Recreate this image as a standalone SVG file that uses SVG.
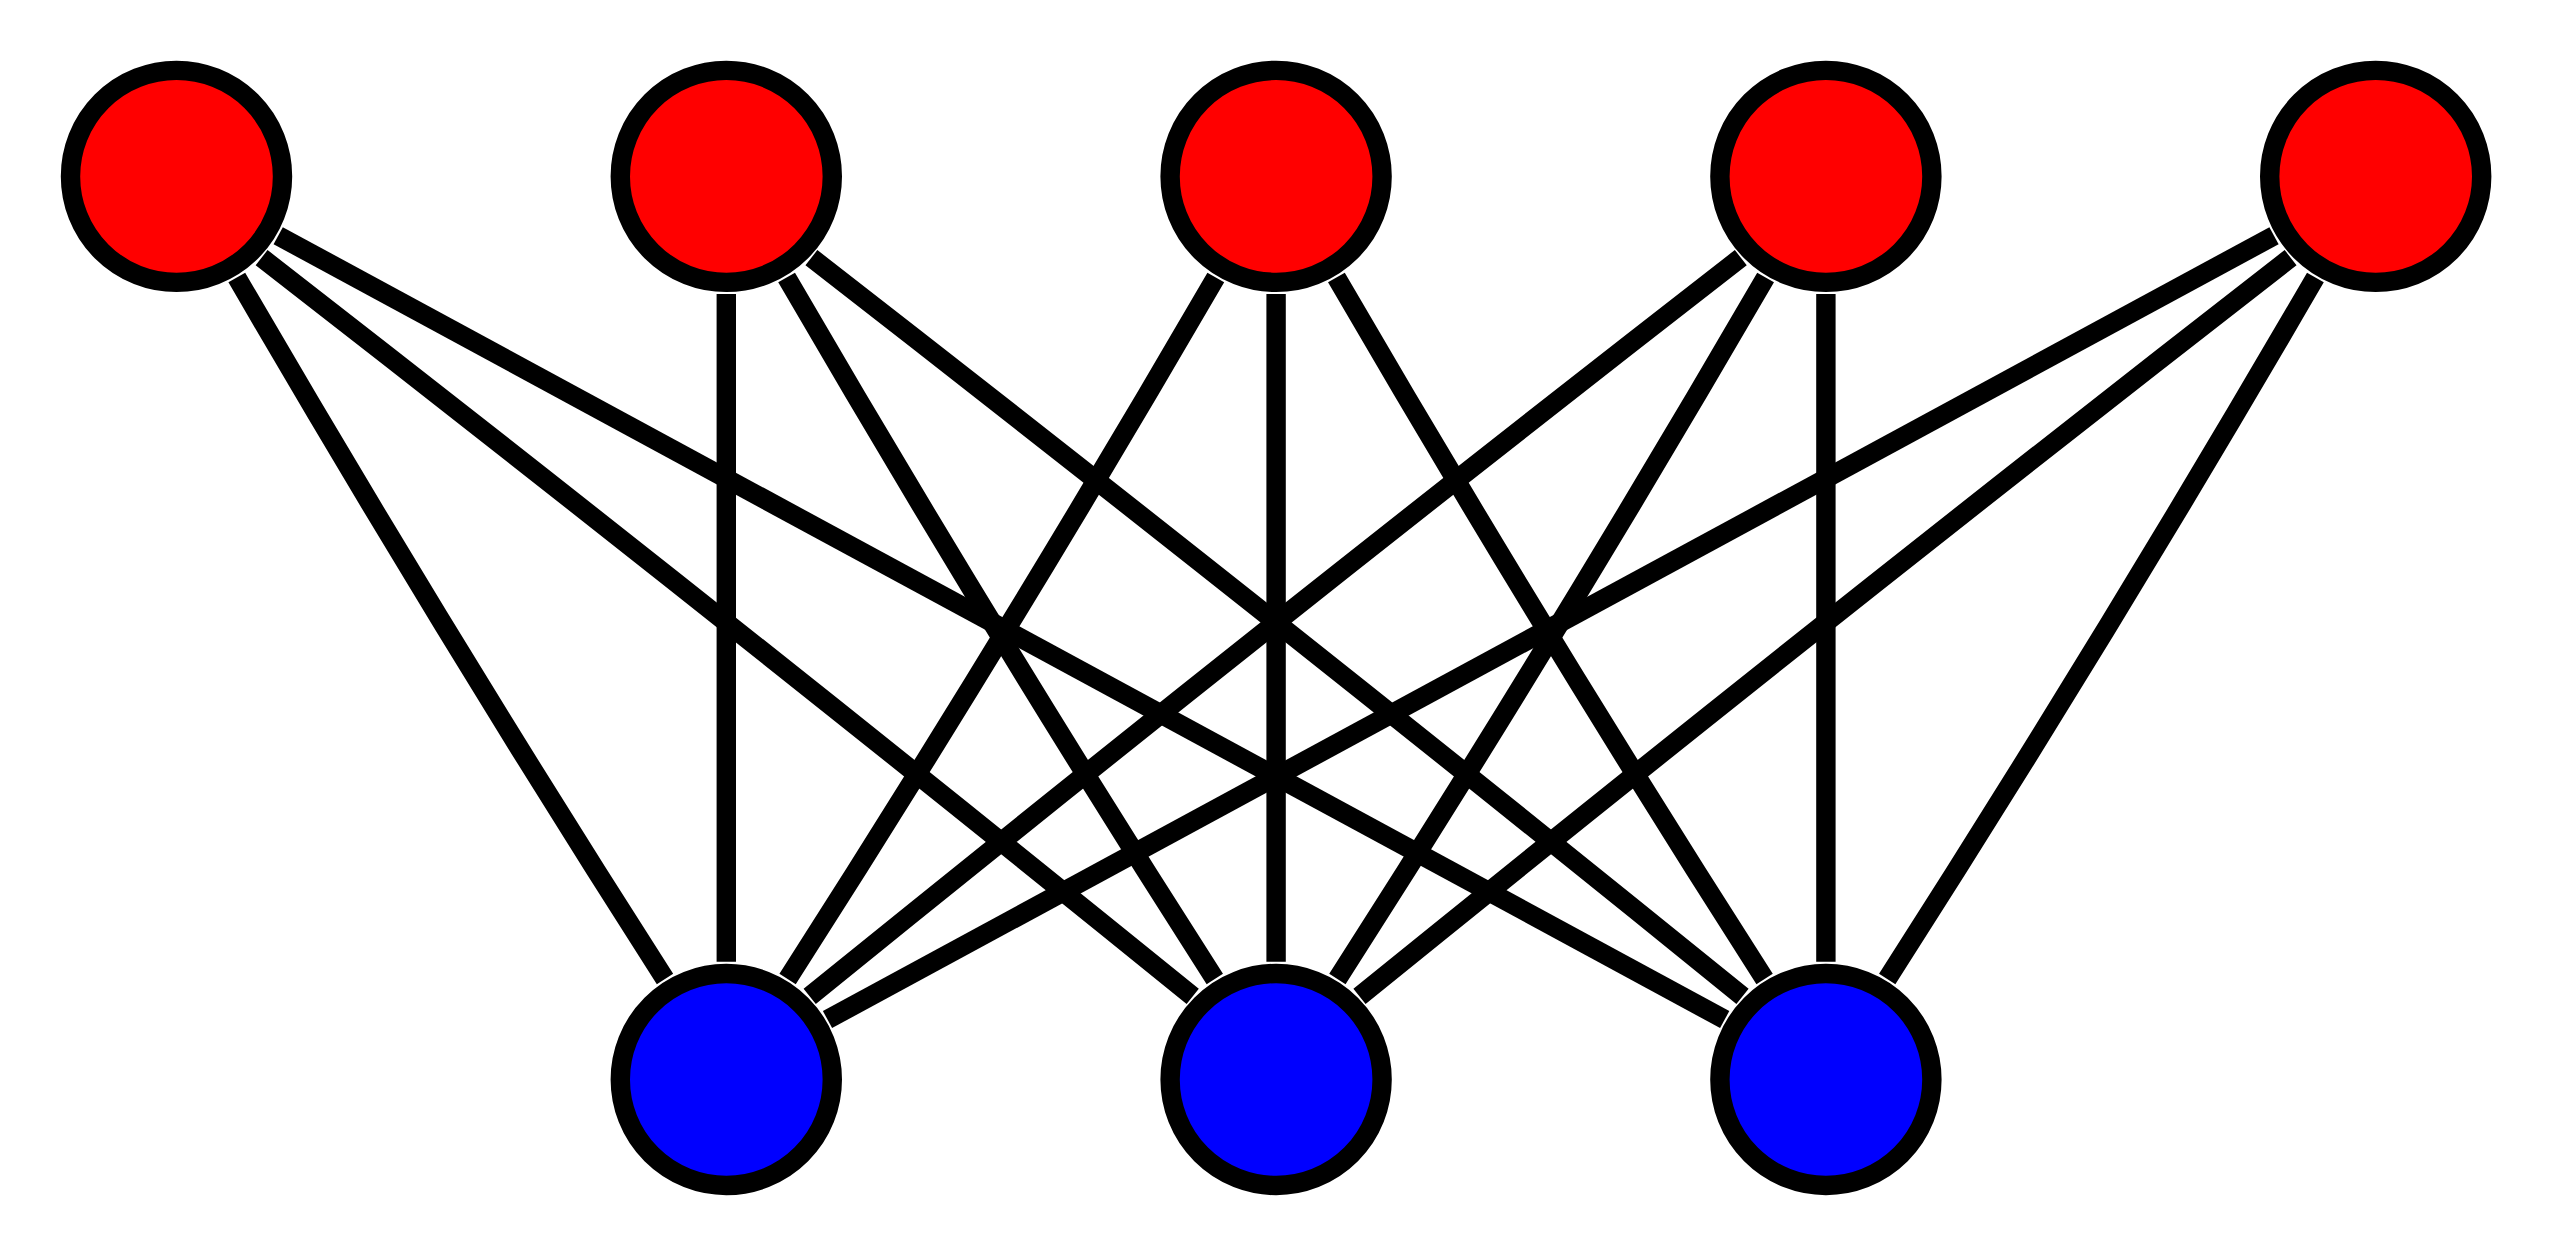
<svg xmlns="http://www.w3.org/2000/svg" width="2560" height="1256" viewBox="0 0 2560 1256">
<style>
.edge{fill:none;stroke:#000000;stroke-width:19.4;stroke-linecap:butt}
.node circle{stroke:#000000;stroke-width:19.4}
.red{fill:#ff0000}
.blue{fill:#0000ff}
</style>
<rect x="0" y="0" width="2560" height="1256" fill="#ffffff"/>
<g id="edges">
<path id="e_t1_b0" class="edge" d="M726.3,294.1 L726.3,961.8"/>
<path id="e_t2_b1" class="edge" d="M1276.1,294.1 L1276.1,961.8"/>
<path id="e_t3_b2" class="edge" d="M1825.9,294.1 L1825.9,961.8"/>
<path id="e_t0_b0" class="edge" d="M236.8,277.5 Q443.2,632.9 665.0,979.0"/>
<path id="e_t1_b1" class="edge" d="M786.6,277.5 Q993.0,632.9 1214.8,979.0"/>
<path id="e_t2_b2" class="edge" d="M1336.4,277.5 Q1542.8,632.9 1764.6,979.0"/>
<path id="e_t4_b2" class="edge" d="M2315.4,277.5 Q2109.0,632.9 1887.2,979.0"/>
<path id="e_t3_b1" class="edge" d="M1765.6,277.5 Q1559.2,632.9 1337.4,979.0"/>
<path id="e_t2_b0" class="edge" d="M1215.8,277.5 Q1009.4,632.9 787.6,979.0"/>
<path id="e_t0_b1" class="edge" d="M261.6,257.7 Q737.2,627.1 1192.7,996.4"/>
<path id="e_t1_b2" class="edge" d="M811.4,257.7 Q1287.0,627.1 1742.5,996.4"/>
<path id="e_t4_b1" class="edge" d="M2290.6,257.7 Q1815.0,627.1 1359.5,996.4"/>
<path id="e_t3_b0" class="edge" d="M1740.8,257.7 Q1265.2,627.1 809.7,996.4"/>
<path id="e_t0_b2" class="edge" d="M278.2,235.7 L1724.7,1019.5"/>
<path id="e_t4_b0" class="edge" d="M2274.0,235.7 L827.5,1019.5"/>
</g>
<g id="t0" class="node"><circle class="red" cx="176.5" cy="176.4" r="106"/></g>
<g id="t1" class="node"><circle class="red" cx="726.3" cy="176.4" r="106"/></g>
<g id="t2" class="node"><circle class="red" cx="1276.1" cy="176.4" r="106"/></g>
<g id="t3" class="node"><circle class="red" cx="1825.9" cy="176.4" r="106"/></g>
<g id="t4" class="node"><circle class="red" cx="2375.7" cy="176.4" r="106"/></g>
<g id="b0" class="node"><circle class="blue" cx="726.3" cy="1079.5" r="106"/></g>
<g id="b1" class="node"><circle class="blue" cx="1276.1" cy="1079.5" r="106"/></g>
<g id="b2" class="node"><circle class="blue" cx="1825.9" cy="1079.5" r="106"/></g>
</svg>
